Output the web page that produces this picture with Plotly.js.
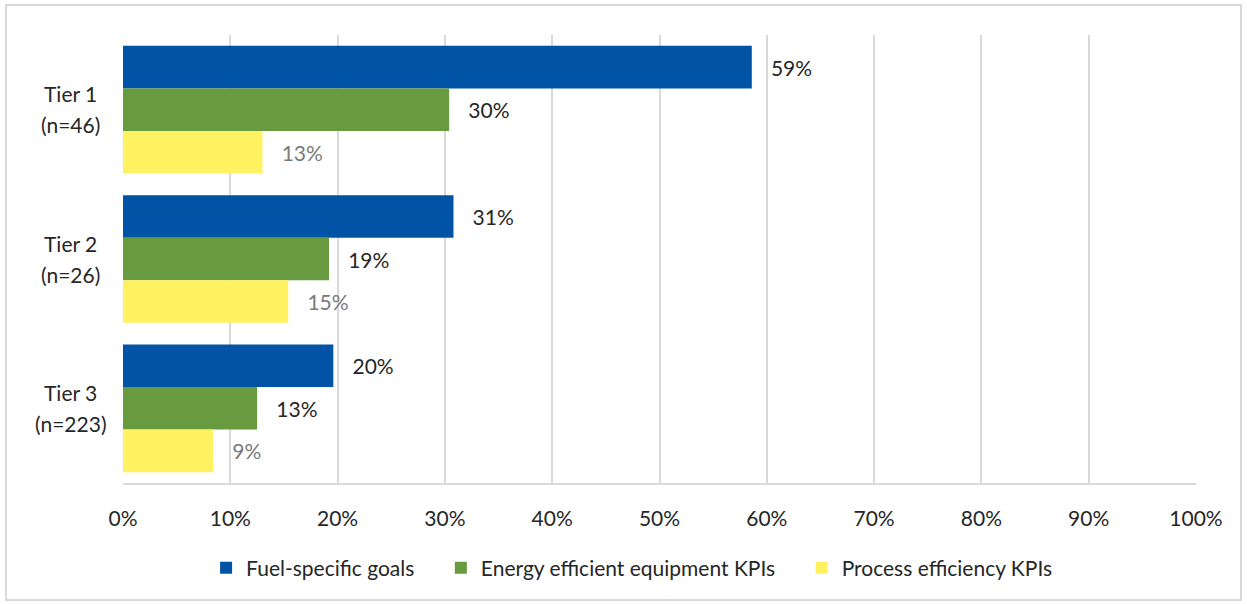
<!DOCTYPE html>
<html>
<head>
<meta charset="utf-8">
<script src="https://cdn.plot.ly/plotly-3.0.1.min.js"></script>
<style>body{margin:0;background:#fff}#chart{width:1247px;height:604px}</style>
</head>
<body>
<div id="chart"></div>
<script>
const categories = ["Tier 1", "Tier 2", "Tier 3"];
const categorySubLabels = ["(n=46)", "(n=26)", "(n=223)"];
const seriesNames = ["Fuel-specific goals", "Energy efficient equipment KPIs", "Process efficiency KPIs"];
const fuelGoals = [58.6, 30.8, 19.6];
const energyEquipment = [30.4, 19.2, 12.5];
const processEfficiency = [13.0, 15.4, 8.4];
const fuelLabels = ["59%", "31%", "20%"];
const energyLabels = ["30%", "19%", "13%"];
const processLabels = ["13%", "15%", "9%"];
const xTicks = [0, 10, 20, 30, 40, 50, 60, 70, 80, 90, 100];
const xTickLabels = ["0%", "10%", "20%", "30%", "40%", "50%", "60%", "70%", "80%", "90%", "100%"];

const FONT = "Lato, 'Open Sans', sans-serif";
const FS = 21;
const colors = ["#0153A5", "#689A3F", "#FFF15F"];
const textColors = ["#262626", "#262626", "#7a7a7a"];
const values = [fuelGoals, energyEquipment, processEfficiency];
const labels = [fuelLabels, energyLabels, processLabels];
const pad = "\u00a0\u00a0\u00a0\u00a0";

const traces = values.map((v, i) => ({
  type: "bar",
  orientation: "h",
  name: i < values.length - 1 ? seriesNames[i] + pad : seriesNames[i],
  y: categories,
  x: v,
  text: labels[i].map(t => "\u00a0\u00a0\u00a0" + t),
  textposition: "outside",
  cliponaxis: false,
  textfont: {family: FONT, size: FS, color: textColors[i]},
  marker: {color: colors[i], line: {width: 0}},
  hoverinfo: "none"
}));

const L = 123, R = 1196, T = 35, B = 483, W = 1247, H = 604;
const pw = R - L, ph = B - T;

const annotations = [];
categories.forEach((c, i) => {
  annotations.push({
    xref: "paper", yref: "y", x: (70 - L) / pw, y: c,
    xanchor: "center", yanchor: "middle", yshift: 16,
    text: c, showarrow: false,
    font: {family: FONT, size: FS, color: "#262626"}
  });
  annotations.push({
    xref: "paper", yref: "y", x: (70 - L) / pw, y: c,
    xanchor: "center", yanchor: "middle", yshift: -15,
    text: categorySubLabels[i], showarrow: false,
    font: {family: FONT, size: FS, color: "#262626"}
  });
});

const layout = {
  width: W, height: H,
  margin: {l: L, r: W - R, t: T, b: H - B, pad: 0},
  paper_bgcolor: "#fff", plot_bgcolor: "#fff",
  barmode: "group",
  bargap: 0.145,
  bargroupgap: 0,
  showlegend: true,
  legend: {
    orientation: "h",
    x: 0.474, xanchor: "center",
    y: -0.19, yanchor: "middle",
    font: {family: FONT, size: FS, color: "#262626"},
    itemwidth: 30,
    traceorder: "normal"
  },
  xaxis: {
    range: [0, 100],
    tickvals: xTicks,
    ticktext: xTickLabels,
    showgrid: true, gridcolor: "#d9d9d9", gridwidth: 2,
    zeroline: false,
    showline: true, linecolor: "#d9d9d9", linewidth: 2,
    ticks: "",
    ticklabelstandoff: 16,
    tickfont: {family: FONT, size: FS, color: "#262626"},
    fixedrange: true
  },
  yaxis: {
    autorange: "reversed",
    showticklabels: false,
    showgrid: false, zeroline: false, showline: false,
    ticks: "",
    fixedrange: true
  },
  annotations: annotations,
  shapes: [{
    type: "rect", xref: "paper", yref: "paper",
    x0: (6 - L) / pw, x1: (1241 - L) / pw,
    y0: (B - 600) / ph, y1: (B - 5) / ph,
    line: {color: "#d9d9d9", width: 2}, fillcolor: "rgba(0,0,0,0)", layer: "below"
  }]
};

Plotly.newPlot("chart", traces, layout, {displayModeBar: false, staticPlot: true});
</script>
</body>
</html>
